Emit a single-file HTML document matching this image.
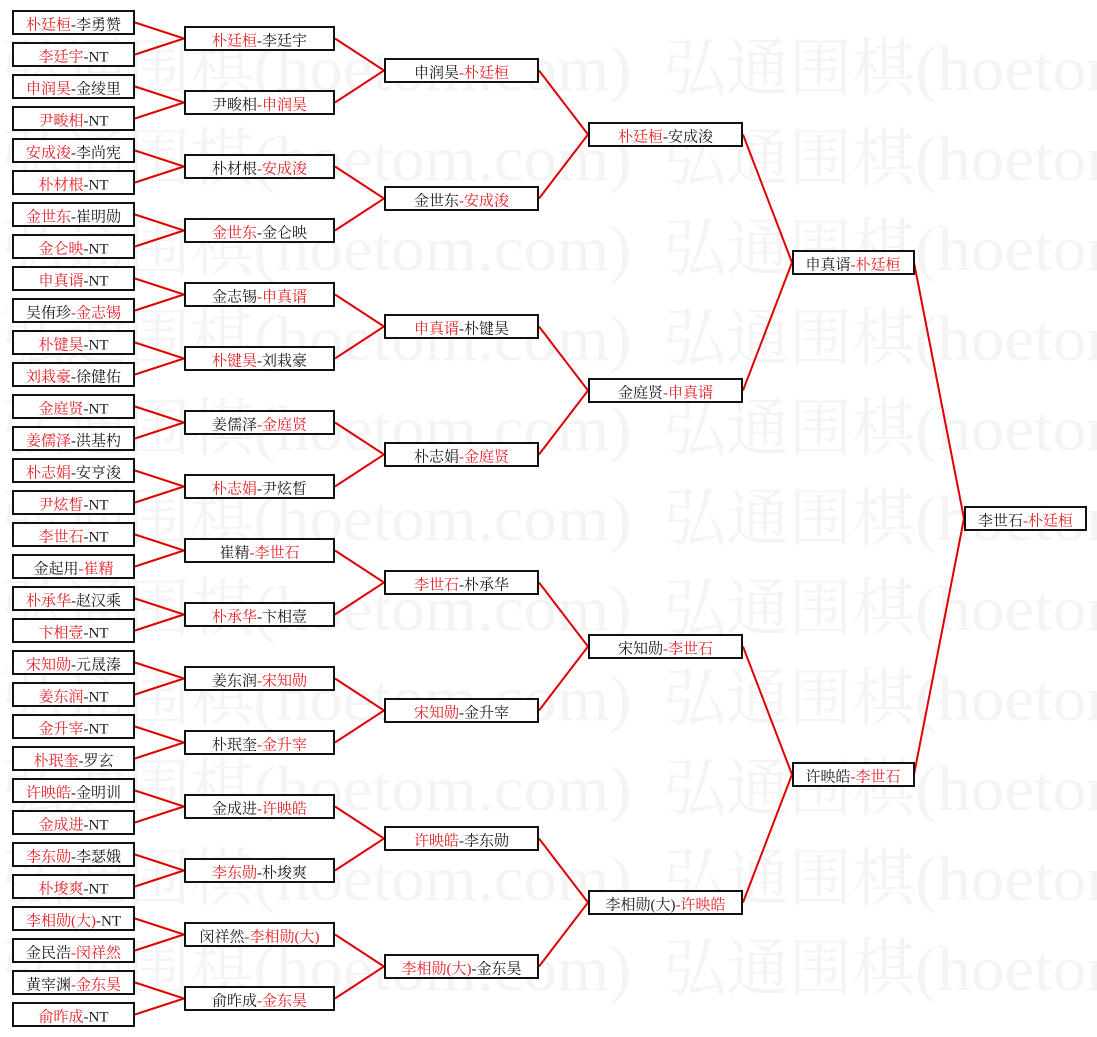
<!DOCTYPE html>
<html>
<head>
<meta charset="utf-8">
<style>
html,body{margin:0;padding:0;background:#fff;width:1097px;height:1037px;overflow:hidden;}
svg{display:block;overflow:hidden;}
</style>
</head>
<body>
<svg width="1097" height="1037" viewBox="0 0 1097 1037" xmlns="http://www.w3.org/2000/svg">
<rect x="0" y="0" width="1097" height="1037" fill="#ffffff"/>
<g fill="#f4f4f4" font-size="63" font-family="'Liberation Serif','Noto Serif CJK SC',serif">
<text x="1.5" y="90">弘通围棋</text><text x="253.5" y="90" textLength="378" lengthAdjust="spacingAndGlyphs">(hoetom.com)</text><text x="663" y="90">弘通围棋</text><text x="915" y="90" textLength="378" lengthAdjust="spacingAndGlyphs">(hoetom.com)</text>
<text x="1.5" y="180">弘通围棋</text><text x="253.5" y="180" textLength="378" lengthAdjust="spacingAndGlyphs">(hoetom.com)</text><text x="663" y="180">弘通围棋</text><text x="915" y="180" textLength="378" lengthAdjust="spacingAndGlyphs">(hoetom.com)</text>
<text x="1.5" y="270">弘通围棋</text><text x="253.5" y="270" textLength="378" lengthAdjust="spacingAndGlyphs">(hoetom.com)</text><text x="663" y="270">弘通围棋</text><text x="915" y="270" textLength="378" lengthAdjust="spacingAndGlyphs">(hoetom.com)</text>
<text x="1.5" y="360">弘通围棋</text><text x="253.5" y="360" textLength="378" lengthAdjust="spacingAndGlyphs">(hoetom.com)</text><text x="663" y="360">弘通围棋</text><text x="915" y="360" textLength="378" lengthAdjust="spacingAndGlyphs">(hoetom.com)</text>
<text x="1.5" y="450">弘通围棋</text><text x="253.5" y="450" textLength="378" lengthAdjust="spacingAndGlyphs">(hoetom.com)</text><text x="663" y="450">弘通围棋</text><text x="915" y="450" textLength="378" lengthAdjust="spacingAndGlyphs">(hoetom.com)</text>
<text x="1.5" y="540">弘通围棋</text><text x="253.5" y="540" textLength="378" lengthAdjust="spacingAndGlyphs">(hoetom.com)</text><text x="663" y="540">弘通围棋</text><text x="915" y="540" textLength="378" lengthAdjust="spacingAndGlyphs">(hoetom.com)</text>
<text x="1.5" y="630">弘通围棋</text><text x="253.5" y="630" textLength="378" lengthAdjust="spacingAndGlyphs">(hoetom.com)</text><text x="663" y="630">弘通围棋</text><text x="915" y="630" textLength="378" lengthAdjust="spacingAndGlyphs">(hoetom.com)</text>
<text x="1.5" y="720">弘通围棋</text><text x="253.5" y="720" textLength="378" lengthAdjust="spacingAndGlyphs">(hoetom.com)</text><text x="663" y="720">弘通围棋</text><text x="915" y="720" textLength="378" lengthAdjust="spacingAndGlyphs">(hoetom.com)</text>
<text x="1.5" y="810">弘通围棋</text><text x="253.5" y="810" textLength="378" lengthAdjust="spacingAndGlyphs">(hoetom.com)</text><text x="663" y="810">弘通围棋</text><text x="915" y="810" textLength="378" lengthAdjust="spacingAndGlyphs">(hoetom.com)</text>
<text x="1.5" y="900">弘通围棋</text><text x="253.5" y="900" textLength="378" lengthAdjust="spacingAndGlyphs">(hoetom.com)</text><text x="663" y="900">弘通围棋</text><text x="915" y="900" textLength="378" lengthAdjust="spacingAndGlyphs">(hoetom.com)</text>
<text x="1.5" y="990">弘通围棋</text><text x="253.5" y="990" textLength="378" lengthAdjust="spacingAndGlyphs">(hoetom.com)</text><text x="663" y="990">弘通围棋</text><text x="915" y="990" textLength="378" lengthAdjust="spacingAndGlyphs">(hoetom.com)</text>
</g>

<g fill="none" stroke="#e00000" stroke-width="2" stroke-linejoin="miter">
<path d="M135 22.5L184 38.5L135 54.5"/>
<path d="M135 86.5L184 102.5L135 118.5"/>
<path d="M135 150.5L184 166.5L135 182.5"/>
<path d="M135 214.5L184 230.5L135 246.5"/>
<path d="M135 278.5L184 294.5L135 310.5"/>
<path d="M135 342.5L184 358.5L135 374.5"/>
<path d="M135 406.5L184 422.5L135 438.5"/>
<path d="M135 470.5L184 486.5L135 502.5"/>
<path d="M135 534.5L184 550.5L135 566.5"/>
<path d="M135 598.5L184 614.5L135 630.5"/>
<path d="M135 662.5L184 678.5L135 694.5"/>
<path d="M135 726.5L184 742.5L135 758.5"/>
<path d="M135 790.5L184 806.5L135 822.5"/>
<path d="M135 854.5L184 870.5L135 886.5"/>
<path d="M135 918.5L184 934.5L135 950.5"/>
<path d="M135 982.5L184 998.5L135 1014.5"/>

<path d="M335 38.5L384 70.5L335 102.5"/>
<path d="M335 166.5L384 198.5L335 230.5"/>
<path d="M335 294.5L384 326.5L335 358.5"/>
<path d="M335 422.5L384 454.5L335 486.5"/>
<path d="M335 550.5L384 582.5L335 614.5"/>
<path d="M335 678.5L384 710.5L335 742.5"/>
<path d="M335 806.5L384 838.5L335 870.5"/>
<path d="M335 934.5L384 966.5L335 998.5"/>

<path d="M539 70.5L588 134.5L539 198.5"/>
<path d="M539 326.5L588 390.5L539 454.5"/>
<path d="M539 582.5L588 646.5L539 710.5"/>
<path d="M539 838.5L588 902.5L539 966.5"/>

<path d="M743 134.5L792 262.5L743 390.5"/>
<path d="M743 646.5L792 774.5L743 902.5"/>

<path d="M914 262.5L964 518.5L914 774.5"/>
</g>

<g fill="#ffffff" stroke="#111111" stroke-width="2">
<rect x="13" y="11" width="121" height="23"/>
<rect x="13" y="43" width="121" height="23"/>
<rect x="13" y="75" width="121" height="23"/>
<rect x="13" y="107" width="121" height="23"/>
<rect x="13" y="139" width="121" height="23"/>
<rect x="13" y="171" width="121" height="23"/>
<rect x="13" y="203" width="121" height="23"/>
<rect x="13" y="235" width="121" height="23"/>
<rect x="13" y="267" width="121" height="23"/>
<rect x="13" y="299" width="121" height="23"/>
<rect x="13" y="331" width="121" height="23"/>
<rect x="13" y="363" width="121" height="23"/>
<rect x="13" y="395" width="121" height="23"/>
<rect x="13" y="427" width="121" height="23"/>
<rect x="13" y="459" width="121" height="23"/>
<rect x="13" y="491" width="121" height="23"/>
<rect x="13" y="523" width="121" height="23"/>
<rect x="13" y="555" width="121" height="23"/>
<rect x="13" y="587" width="121" height="23"/>
<rect x="13" y="619" width="121" height="23"/>
<rect x="13" y="651" width="121" height="23"/>
<rect x="13" y="683" width="121" height="23"/>
<rect x="13" y="715" width="121" height="23"/>
<rect x="13" y="747" width="121" height="23"/>
<rect x="13" y="779" width="121" height="23"/>
<rect x="13" y="811" width="121" height="23"/>
<rect x="13" y="843" width="121" height="23"/>
<rect x="13" y="875" width="121" height="23"/>
<rect x="13" y="907" width="121" height="23"/>
<rect x="13" y="939" width="121" height="23"/>
<rect x="13" y="971" width="121" height="23"/>
<rect x="13" y="1003" width="121" height="23"/>

<rect x="185" y="27" width="149" height="23"/>
<rect x="185" y="91" width="149" height="23"/>
<rect x="185" y="155" width="149" height="23"/>
<rect x="185" y="219" width="149" height="23"/>
<rect x="185" y="283" width="149" height="23"/>
<rect x="185" y="347" width="149" height="23"/>
<rect x="185" y="411" width="149" height="23"/>
<rect x="185" y="475" width="149" height="23"/>
<rect x="185" y="539" width="149" height="23"/>
<rect x="185" y="603" width="149" height="23"/>
<rect x="185" y="667" width="149" height="23"/>
<rect x="185" y="731" width="149" height="23"/>
<rect x="185" y="795" width="149" height="23"/>
<rect x="185" y="859" width="149" height="23"/>
<rect x="185" y="923" width="149" height="23"/>
<rect x="185" y="987" width="149" height="23"/>

<rect x="385" y="59" width="153" height="23"/>
<rect x="385" y="187" width="153" height="23"/>
<rect x="385" y="315" width="153" height="23"/>
<rect x="385" y="443" width="153" height="23"/>
<rect x="385" y="571" width="153" height="23"/>
<rect x="385" y="699" width="153" height="23"/>
<rect x="385" y="827" width="153" height="23"/>
<rect x="385" y="955" width="153" height="23"/>

<rect x="589" y="123" width="153" height="23"/>
<rect x="589" y="379" width="153" height="23"/>
<rect x="589" y="635" width="153" height="23"/>
<rect x="589" y="891" width="153" height="23"/>

<rect x="793" y="251" width="121" height="23"/>
<rect x="793" y="763" width="121" height="23"/>

<rect x="965" y="507" width="121" height="23"/>
</g>

<g fill="#1a1a1a" font-size="15" font-family="'Liberation Serif','Noto Serif CJK SC',serif" text-anchor="middle">
<text x="73.5" y="29.5"><tspan fill="#e41e26">朴廷桓</tspan>-李勇赞</text>
<text x="73.5" y="61.5"><tspan fill="#e41e26">李廷宇</tspan>-NT</text>
<text x="73.5" y="93.5"><tspan fill="#e41e26">申润昊</tspan>-金绫里</text>
<text x="73.5" y="125.5"><tspan fill="#e41e26">尹畯相</tspan>-NT</text>
<text x="73.5" y="157.5"><tspan fill="#e41e26">安成浚</tspan>-李尚宪</text>
<text x="73.5" y="189.5"><tspan fill="#e41e26">朴材根</tspan>-NT</text>
<text x="73.5" y="221.5"><tspan fill="#e41e26">金世东</tspan>-崔明勋</text>
<text x="73.5" y="253.5"><tspan fill="#e41e26">金仑映</tspan>-NT</text>
<text x="73.5" y="285.5"><tspan fill="#e41e26">申真谞</tspan>-NT</text>
<text x="73.5" y="317.5">吴侑珍<tspan fill="#e41e26">-金志锡</tspan></text>
<text x="73.5" y="349.5"><tspan fill="#e41e26">朴键昊</tspan>-NT</text>
<text x="73.5" y="381.5"><tspan fill="#e41e26">刘栽豪</tspan>-徐健佑</text>
<text x="73.5" y="413.5"><tspan fill="#e41e26">金庭贤</tspan>-NT</text>
<text x="73.5" y="445.5"><tspan fill="#e41e26">姜儒泽</tspan>-洪基杓</text>
<text x="73.5" y="477.5"><tspan fill="#e41e26">朴志娟</tspan>-安亨浚</text>
<text x="73.5" y="509.5"><tspan fill="#e41e26">尹炫晳</tspan>-NT</text>
<text x="73.5" y="541.5"><tspan fill="#e41e26">李世石</tspan>-NT</text>
<text x="73.5" y="573.5">金起用<tspan fill="#e41e26">-崔精</tspan></text>
<text x="73.5" y="605.5"><tspan fill="#e41e26">朴承华</tspan>-赵汉乘</text>
<text x="73.5" y="637.5"><tspan fill="#e41e26">卞相壹</tspan>-NT</text>
<text x="73.5" y="669.5"><tspan fill="#e41e26">宋知勋</tspan>-元晟溱</text>
<text x="73.5" y="701.5"><tspan fill="#e41e26">姜东润</tspan>-NT</text>
<text x="73.5" y="733.5"><tspan fill="#e41e26">金升宰</tspan>-NT</text>
<text x="73.5" y="765.5"><tspan fill="#e41e26">朴珉奎</tspan>-罗玄</text>
<text x="73.5" y="797.5"><tspan fill="#e41e26">许映皓</tspan>-金明训</text>
<text x="73.5" y="829.5"><tspan fill="#e41e26">金成进</tspan>-NT</text>
<text x="73.5" y="861.5"><tspan fill="#e41e26">李东勋</tspan>-李瑟娥</text>
<text x="73.5" y="893.5"><tspan fill="#e41e26">朴埈爽</tspan>-NT</text>
<text x="73.5" y="925.5"><tspan fill="#e41e26">李相勋(大)</tspan>-NT</text>
<text x="73.5" y="957.5">金民浩<tspan fill="#e41e26">-闵祥然</tspan></text>
<text x="73.5" y="989.5">黄宰渊<tspan fill="#e41e26">-金东昊</tspan></text>
<text x="73.5" y="1021.5"><tspan fill="#e41e26">俞昨成</tspan>-NT</text>

<text x="259.5" y="45.5"><tspan fill="#e41e26">朴廷桓</tspan>-李廷宇</text>
<text x="259.5" y="109.5">尹畯相<tspan fill="#e41e26">-申润昊</tspan></text>
<text x="259.5" y="173.5">朴材根<tspan fill="#e41e26">-安成浚</tspan></text>
<text x="259.5" y="237.5"><tspan fill="#e41e26">金世东</tspan>-金仑映</text>
<text x="259.5" y="301.5">金志锡<tspan fill="#e41e26">-申真谞</tspan></text>
<text x="259.5" y="365.5"><tspan fill="#e41e26">朴键昊</tspan>-刘栽豪</text>
<text x="259.5" y="429.5">姜儒泽<tspan fill="#e41e26">-金庭贤</tspan></text>
<text x="259.5" y="493.5"><tspan fill="#e41e26">朴志娟</tspan>-尹炫晳</text>
<text x="259.5" y="557.5">崔精<tspan fill="#e41e26">-李世石</tspan></text>
<text x="259.5" y="621.5"><tspan fill="#e41e26">朴承华</tspan>-卞相壹</text>
<text x="259.5" y="685.5">姜东润<tspan fill="#e41e26">-宋知勋</tspan></text>
<text x="259.5" y="749.5">朴珉奎<tspan fill="#e41e26">-金升宰</tspan></text>
<text x="259.5" y="813.5">金成进<tspan fill="#e41e26">-许映皓</tspan></text>
<text x="259.5" y="877.5"><tspan fill="#e41e26">李东勋</tspan>-朴埈爽</text>
<text x="259.5" y="941.5">闵祥然<tspan fill="#e41e26">-李相勋(大)</tspan></text>
<text x="259.5" y="1005.5">俞昨成<tspan fill="#e41e26">-金东昊</tspan></text>

<text x="461.5" y="77.5">申润昊<tspan fill="#e41e26">-朴廷桓</tspan></text>
<text x="461.5" y="205.5">金世东<tspan fill="#e41e26">-安成浚</tspan></text>
<text x="461.5" y="333.5"><tspan fill="#e41e26">申真谞</tspan>-朴键昊</text>
<text x="461.5" y="461.5">朴志娟<tspan fill="#e41e26">-金庭贤</tspan></text>
<text x="461.5" y="589.5"><tspan fill="#e41e26">李世石</tspan>-朴承华</text>
<text x="461.5" y="717.5"><tspan fill="#e41e26">宋知勋</tspan>-金升宰</text>
<text x="461.5" y="845.5"><tspan fill="#e41e26">许映皓</tspan>-李东勋</text>
<text x="461.5" y="973.5"><tspan fill="#e41e26">李相勋(大)</tspan>-金东昊</text>

<text x="665.5" y="141.5"><tspan fill="#e41e26">朴廷桓</tspan>-安成浚</text>
<text x="665.5" y="397.5">金庭贤<tspan fill="#e41e26">-申真谞</tspan></text>
<text x="665.5" y="653.5">宋知勋<tspan fill="#e41e26">-李世石</tspan></text>
<text x="665.5" y="909.5">李相勋(大)<tspan fill="#e41e26">-许映皓</tspan></text>

<text x="853" y="269.5">申真谞<tspan fill="#e41e26">-朴廷桓</tspan></text>
<text x="853" y="781.5">许映皓<tspan fill="#e41e26">-李世石</tspan></text>

<text x="1025.5" y="525.5">李世石<tspan fill="#e41e26">-朴廷桓</tspan></text>
</g>
</svg>
</body>
</html>
